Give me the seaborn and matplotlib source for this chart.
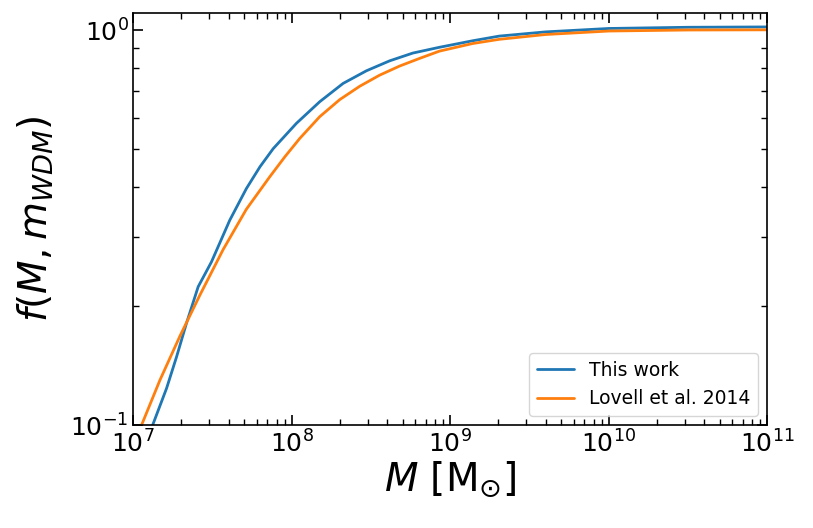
import numpy as np
import pandas as pd
import seaborn as sns
import matplotlib
matplotlib.use("Agg")
import matplotlib.pyplot as plt

# curves (log10 M, f)
logm_this = [7.122, 7.210, 7.273, 7.335, 7.409, 7.493, 7.608, 7.713, 7.799, 7.882,
             8.029, 8.176, 8.323, 8.470, 8.616, 8.763, 8.931, 9.140, 9.308, 9.6,
             10.0, 10.5, 11.0]
f_this = [0.100, 0.124, 0.149, 0.181, 0.224, 0.259, 0.330, 0.397, 0.451, 0.501,
          0.581, 0.659, 0.733, 0.789, 0.836, 0.875, 0.905, 0.940, 0.966, 0.990,
          1.010, 1.017, 1.019]

logm_lovell = [7.052, 7.168, 7.294, 7.419, 7.566, 7.713, 7.860, 7.956, 8.050, 8.176,
               8.302, 8.428, 8.553, 8.679, 8.805, 8.931, 9.140, 9.308, 9.6, 10.0,
               10.5, 11.0]
f_lovell = [0.100, 0.130, 0.168, 0.213, 0.278, 0.352, 0.425, 0.478, 0.532, 0.604,
            0.667, 0.721, 0.769, 0.811, 0.848, 0.885, 0.925, 0.948, 0.975, 0.995,
            1.001, 1.002]

labels = ["This work", "Lovell et al. 2014"]

df = pd.concat([
    pd.DataFrame({"M": 10 ** np.array(logm_this), "f": f_this, "src": labels[0]}),
    pd.DataFrame({"M": 10 ** np.array(logm_lovell), "f": f_lovell, "src": labels[1]}),
])

sns.set_style("ticks", {"axes.edgecolor": "black", "xtick.color": "black",
                        "ytick.color": "black", "text.color": "black",
                        "axes.labelcolor": "black"})
plt.rcParams["font.family"] = ["DejaVu Sans"]

fig, ax = plt.subplots(figsize=(8.13, 5.28), dpi=100)
sns.lineplot(data=df, x="M", y="f", hue="src", palette=["#1f77b4", "#ff7f0e"],
             linewidth=2, ax=ax)
ax.set_xscale("log")
ax.set_yscale("log")
ax.set_xlim(1e7, 1e11)
ax.set_ylim(0.1, 1.104)

ax.tick_params(which="both", direction="in", top=True, right=True, labelsize=18)
ax.tick_params(which="major", length=7, width=1.2)
ax.tick_params(which="minor", length=4, width=1)
for s in ax.spines.values():
    s.set_linewidth(1.2)

ax.set_xlabel(r"$M$ [M$_{\odot}$]", fontsize=28, labelpad=2)
ax.set_ylabel(r"$f(M, m_{WDM})$", fontsize=28, labelpad=10)

leg = ax.legend(loc="lower right", fontsize=13.5, title=None)

plt.subplots_adjust(left=0.164, right=0.944, top=0.975, bottom=0.195)
plt.savefig("out.png")
